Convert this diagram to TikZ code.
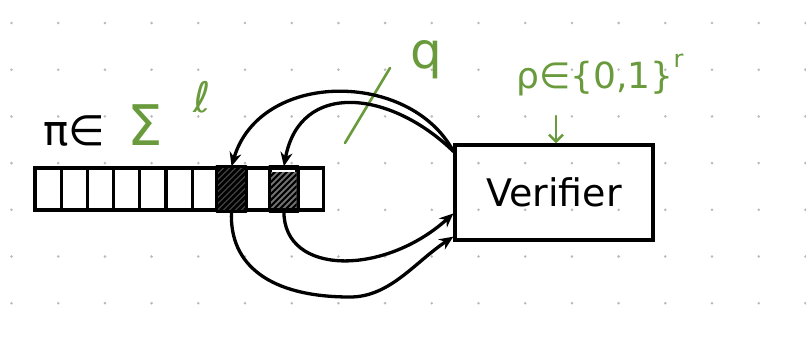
\documentclass[tikz,border=0pt]{standalone}
\usepackage{fontspec}
\newfontfamily\sym{DejaVu Sans}
\usetikzlibrary{arrows.meta}
\definecolor{pen}{RGB}{105,155,60}
\begin{document}
\begin{tikzpicture}[x=1pt,y=-1pt,
  ink/.style={line width=3.3pt, line cap=round, line join=round},
  arr/.style={ink,-{Stealth[length=14pt,width=12pt]}},
  garr/.style={pen,line width=2.4pt,line cap=round,-{Straight Barb[length=7pt,width=14pt]}},
  cell/.style={draw, line width=3.3pt, minimum width=26.2pt, minimum height=42pt, inner sep=0pt},
  lab/.style={text=pen, inner sep=0pt}]
\useasboundingbox (0,0) rectangle (806,341);
\fill[white] (0,0) rectangle (806,341);
\foreach \i in {0,...,17} \foreach \j in {0,...,6} \fill[gray!55] (11.5+46.7*\i, 23+46.7*\j) circle (1.4pt);
% tape
\foreach \i in {1,...,11} \node[cell] (c\i) at ({35+26.2*(\i-0.5)},189) {};
\begin{scope}
\clip (c8.south west) rectangle (c8.north east);
\fill[black!75] (c8.south west) rectangle (c8.north east);
\foreach \k in {-50,-44,...,50} \draw[line width=2.6pt] (c8.center) ++(\k-30,30) -- ++(60,-60);
\end{scope}
\begin{scope}
\clip ([xshift=2pt,yshift=4pt]c10.south west) rectangle ([xshift=-2pt,yshift=-6pt]c10.north east);
\fill[black!55] (c10.south west) rectangle (c10.north east);
\foreach \k in {-50,-44,...,50} \draw[line width=2pt] (c10.center) ++(\k-30,30) -- ++(60,-60);
\end{scope}
\draw[ink] (c8.south west) rectangle (c8.north east);
\draw[ink] (c10.south west) rectangle (c10.north east);
% verifier
\node[draw, line width=3.3pt, minimum width=198pt, minimum height=95pt, inner sep=0pt,
      font=\sym\fontsize{38}{42}\selectfont] (ver) at (554,192.5) {Verifier};
% labels
\node[inner sep=0pt, font=\sym\fontsize{42}{46}\selectfont] (pi) at (74,131) {π∈};
\node[lab, font=\sym\fontsize{56}{60}\selectfont] (sig) at (145,125) {Σ};
\node[lab, font=\sym\fontsize{42}{46}\selectfont] (ell) at (202,97) {ℓ};
\node[lab, font=\sym\fontsize{50}{54}\selectfont] (q) at (426,60) {q};
\node[lab, font=\sym\fontsize{36}{40}\selectfont] (rho) at (600,75) {ρ∈\{0,1\}\raisebox{0.6em}{\fontsize{24}{26}\selectfont r}};
\coordinate (rs) at (556,116);
\draw[garr] (rs) -- (ver.north -| rs);
\draw[pen, line width=2.6pt, line cap=round] (345,143) -- (390,68);
% query arrows
\draw[arr] ([yshift=-8pt]ver.north west) .. controls (410,70) and (260,70) .. (c8.north);
\draw[arr] ([yshift=-8pt]ver.north west) .. controls (390,90) and (300,80) .. (c10.north);
% answer arrows
\draw[arr] (c10.south) .. controls (284,276) and (384,276) .. ([yshift=-21pt]ver.west);
\draw[arr] (c8.south) .. controls (229,265) and (270,297) .. (350,297) .. controls (390,297) and (415,262) .. ([yshift=5pt]ver.south west);
\end{tikzpicture}
\end{document}
